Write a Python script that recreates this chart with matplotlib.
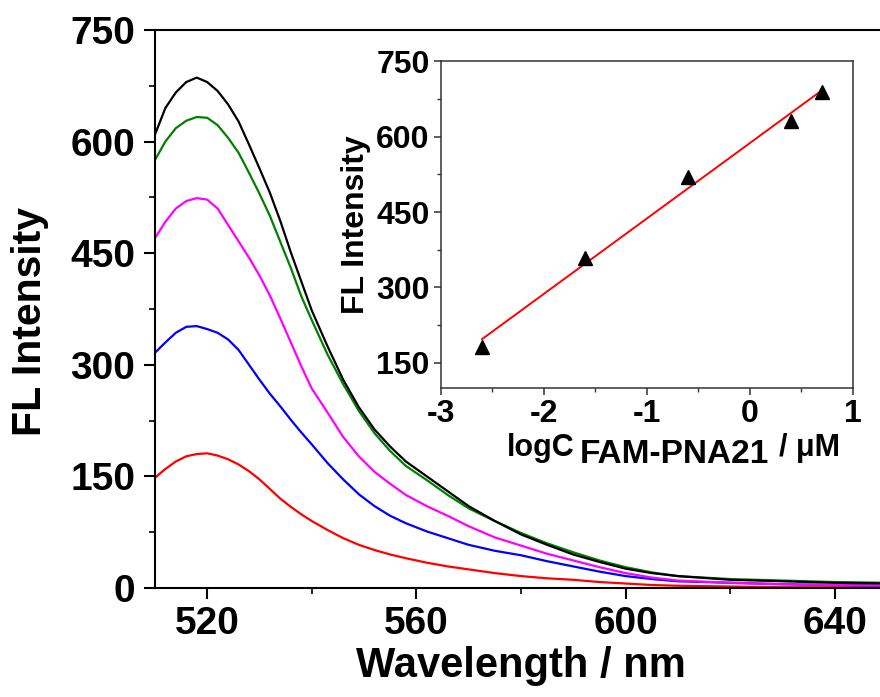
import matplotlib
matplotlib.use('Agg')
import matplotlib.pyplot as plt
import numpy as np
from matplotlib.ticker import MultipleLocator

plt.rcParams['font.family'] = ['Liberation Sans', 'DejaVu Sans']
plt.rcParams['font.weight'] = 'bold'
plt.rcParams['axes.unicode_minus'] = False

# emission spectra
wavelength = [510, 512, 514, 516, 518, 520, 522, 524, 526, 528, 530, 532, 534, 536, 538,
              540, 543, 546, 549, 552, 555, 558, 562, 566, 570, 575, 580, 585, 590, 595,
              600, 605, 610, 620, 630, 640, 650]
fl_black = [609, 645, 666, 680, 686, 680, 668, 650, 627, 596, 564, 531, 493, 451, 412,
            373, 325, 280, 243, 213, 190, 170, 150, 130, 110, 90, 72, 58, 45, 35,
            26, 20, 16, 11, 9, 7, 6]
fl_green = [575, 600, 618, 628, 633, 632, 622, 605, 585, 558, 530, 500, 465, 430, 392,
            360, 314, 274, 238, 208, 184, 164, 145, 125, 107, 90, 74, 60, 48, 37,
            28, 21, 16, 12, 10, 8, 7]
fl_magenta = [470, 492, 510, 520, 524, 522, 510, 488, 466, 444, 420, 393, 362, 330, 298,
              268, 236, 203, 177, 156, 140, 125, 110, 97, 83, 68, 57, 46, 37, 28,
              20, 14, 10, 7, 5, 4, 3]
fl_blue = [316, 330, 343, 351, 352, 348, 343, 334, 320, 300, 280, 261, 244, 226, 209,
           193, 168, 146, 126, 110, 97, 87, 76, 67, 58, 50, 44, 36, 29, 22,
           16, 12, 9, 7, 5, 4, 3]
fl_red = [148, 160, 170, 177, 180, 181, 178, 173, 166, 157, 146, 133, 120, 109, 99,
          90, 78, 67, 58, 51, 45, 40, 34, 29, 25, 20, 16, 13, 11, 8,
          6, 4, 3, 2, 1, 1, 1]

# calibration (inset)
log_c = [-2.6, -1.6, -0.6, 0.4, 0.7]
fl_peak = [182, 358, 520, 631, 689]
fl_err = [10, 8, 6, 8, 8]

fig = plt.figure(figsize=(8.8, 6.97), dpi=100)
ax = fig.add_axes([0.176, 0.1564, 0.832, 0.8006])

for y, c in [(fl_red, '#ff0000'), (fl_blue, '#0000ff'), (fl_magenta, '#ff00ff'),
             (fl_green, '#007f00'), (fl_black, '#000000')]:
    ax.plot(wavelength, y, color=c, lw=1.6)

ax.set_xlim(510, 650)
ax.set_ylim(0, 750)
ax.xaxis.set_major_locator(MultipleLocator(40))
ax.xaxis.set_minor_locator(MultipleLocator(20))
ax.yaxis.set_major_locator(MultipleLocator(150))
ax.yaxis.set_minor_locator(MultipleLocator(75))
ax.tick_params(which='major', direction='out', length=8, width=1.5, labelsize=28)
ax.tick_params(which='minor', direction='out', length=4, width=1.2)
ax.tick_params(axis='x', pad=5)
ax.tick_params(axis='y', pad=6)
for s in ax.spines.values():
    s.set_linewidth(1.5)
ax.set_xlabel('Wavelength / nm', fontsize=30, fontweight='bold', labelpad=3)
ax.set_ylabel('FL Intensity', fontsize=29.5, fontweight='bold')
ax.yaxis.set_label_coords(-0.145, 0.477)

# inset
ins = fig.add_axes([0.501, 0.4433, 0.468, 0.469])
coef = np.polyfit(log_c, fl_peak, 1)
fit_x = np.array([log_c[0], log_c[-1]])
ins.plot(fit_x, np.polyval(coef, fit_x), color='#ff0000', lw=1.4, zorder=2)
ins.errorbar(log_c, fl_peak, yerr=fl_err, fmt='^', color='black', ms=10,
             elinewidth=1, capsize=0, zorder=3)
ins.set_xlim(-3, 1)
ins.set_ylim(100, 750)
ins.xaxis.set_major_locator(MultipleLocator(1))
ins.xaxis.set_minor_locator(MultipleLocator(0.5))
ins.yaxis.set_major_locator(MultipleLocator(150))
ins.yaxis.set_minor_locator(MultipleLocator(75))
ins.tick_params(which='major', direction='out', length=5, width=1.1, labelsize=23,
                color='#333333')
ins.tick_params(which='minor', direction='out', length=3, width=1, color='#333333')
ins.tick_params(axis='x', pad=3)
ins.tick_params(axis='y', pad=3)
for s in ins.spines.values():
    s.set_linewidth(1.1)
    s.set_color('#333333')
ins.set_ylabel('FL Intensity', fontsize=23, fontweight='bold', labelpad=4)

# inset x label with enlarged subscript
fig.text(507 / 880, 1 - 456 / 697, 'logC', fontsize=22, fontweight='bold', va='baseline')
fig.text(580 / 880, 1 - 463 / 697, 'FAM-PNA21', fontsize=24, fontweight='bold', va='baseline')
fig.text(779 / 880, 1 - 456 / 697, '/ \u03bcM', fontsize=22, fontweight='bold', va='baseline')

fig.savefig('out.png', dpi=100)
